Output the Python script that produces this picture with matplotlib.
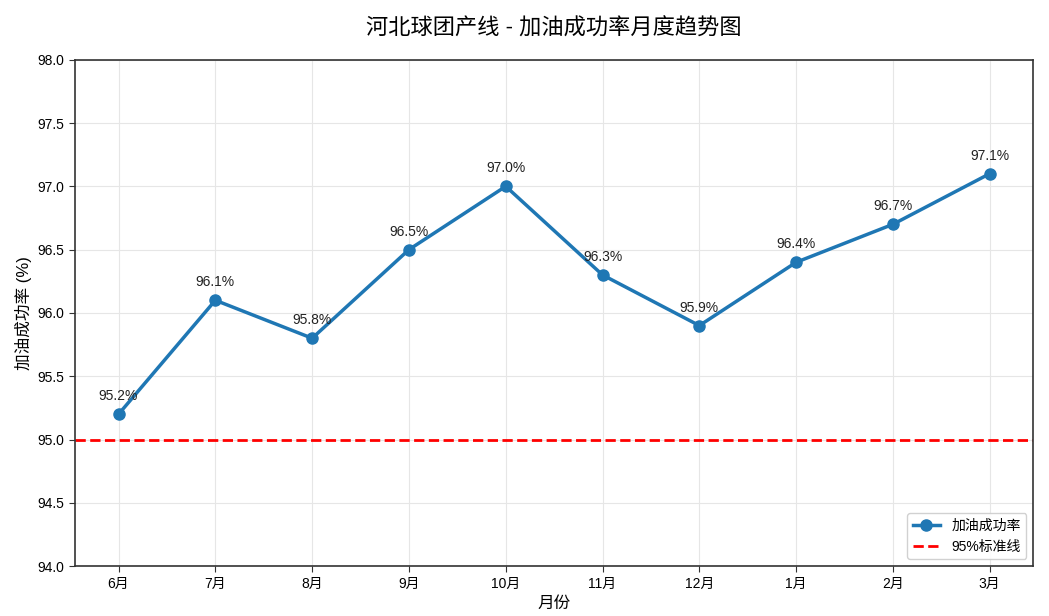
import matplotlib
matplotlib.use('Agg')
import matplotlib.pyplot as plt

plt.rcParams['font.family'] = ['Liberation Sans', 'Noto Sans CJK SC', 'DejaVu Sans']
plt.rcParams['axes.unicode_minus'] = False

months = ['6月', '7月', '8月', '9月', '10月', '11月', '12月', '1月', '2月', '3月']
rates = [95.2, 96.1, 95.8, 96.5, 97.0, 96.3, 95.9, 96.4, 96.7, 97.1]
standard = 95.0

fig = plt.figure(figsize=(10.49, 6.16), dpi=100)
ax = fig.add_axes([0.0715, 0.081, 0.9135, 0.822])

x = list(range(len(months)))
ax.plot(x, rates, color='#1f77b4', linewidth=2.5, marker='o', markersize=8, label='加油成功率')
ax.axhline(standard, color='red', linestyle='--', linewidth=2, label='95%标准线')

for xi, v in zip(x, rates):
    ax.annotate(f'{v:.1f}%', (xi, v), textcoords='offset points', xytext=(0, 10),
                ha='center', fontsize=10, color='#222222')

ax.set_xticks(x)
ax.set_xticklabels(months, fontsize=10)
ax.set_ylim(94.0, 98.0)
ax.set_yticks([94.0, 94.5, 95.0, 95.5, 96.0, 96.5, 97.0, 97.5, 98.0])
ax.set_yticklabels([f'{t:.1f}' for t in ax.get_yticks()], fontsize=10)
ax.set_xlim(-0.45, 9.45)
ax.grid(True, color='#e6e6e6', linewidth=0.8)
ax.set_axisbelow(True)
for s in ax.spines.values():
    s.set_color('#333333')
    s.set_linewidth(1.2)
ax.tick_params(color='#333333', length=4)

ax.set_xlabel('月份', fontsize=12)
ax.set_ylabel('加油成功率 (%)', fontsize=12)
ax.set_title('河北球团产线 - 加油成功率月度趋势图', fontsize=16, pad=18)
ax.legend(loc='lower right', fontsize=10, framealpha=0.9)

fig.savefig('out.png', dpi=100)
